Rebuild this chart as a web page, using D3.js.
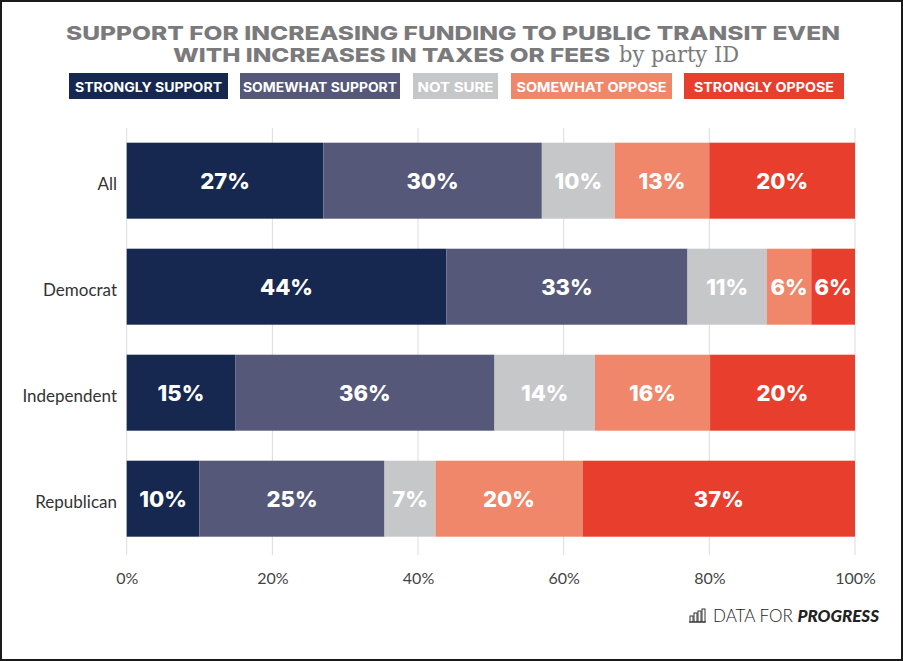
<!DOCTYPE html>
<html><head><meta charset="utf-8">
<script src="https://cdn.jsdelivr.net/npm/d3@7"></script>
<style>
html,body{margin:0;padding:0;background:#fff;}
svg{display:block;}
</style></head>
<body>
<svg id="chart" width="903" height="661"></svg>
<script>
const categories = ["All", "Democrat", "Independent", "Republican"];
const seriesKeys = ["stronglySupport", "somewhatSupport", "notSure", "somewhatOppose", "stronglyOppose"];
const legendLabels = ["STRONGLY SUPPORT", "SOMEWHAT SUPPORT", "NOT SURE", "SOMEWHAT OPPOSE", "STRONGLY OPPOSE"];
const stronglySupport = [27, 43.9, 14.9, 10.0];
const somewhatSupport = [30, 33.1, 35.6, 25.4];
const notSure = [10, 10.9, 13.8, 7.0];
const somewhatOppose = [13, 6.1, 15.8, 20.2];
const stronglyOppose = [20, 6.0, 19.9, 37.4];
const tickValues = [0, 20, 40, 60, 80, 100];
const titleLine1 = "SUPPORT FOR INCREASING FUNDING TO PUBLIC TRANSIT EVEN";
const titleLine2 = "WITH INCREASES IN TAXES OR FEES";
const titleSuffix = "by party ID";

const colors = ["#16284f", "#555879", "#c6c7c9", "#f0876a", "#e83e2d"];
const seriesValues = [stronglySupport, somewhatSupport, notSure, somewhatOppose, stronglyOppose];

const table = categories.map((c, i) => {
  const row = {category: c};
  seriesKeys.forEach((k, j) => row[k] = seriesValues[j][i]);
  return row;
});

const svg = d3.select("#chart");

// frame
svg.append("rect").attr("x", 1).attr("y", 1).attr("width", 901).attr("height", 659)
  .attr("fill", "#fff").attr("stroke", "#1a1a1a").attr("stroke-width", 2);

const x = d3.scaleLinear().domain([0, 100]).range([126.7, 855]);
const y = d3.scaleBand().domain(categories).range([127.7, 551.7]).paddingInner(0.283).paddingOuter(0.1415);

// gridlines
svg.append("g").selectAll("line").data(tickValues).join("line")
  .attr("x1", d => x(d)).attr("x2", d => x(d))
  .attr("y1", 128).attr("y2", 555)
  .attr("stroke", "#dcdcdc").attr("stroke-width", 1);

// axis labels
const xAxis = d3.axisBottom(x).tickValues(tickValues).tickFormat(d => d + "%").tickSize(0).tickPadding(0);
const gx = svg.append("g").attr("transform", "translate(0,573)").call(xAxis);
gx.select(".domain").remove();
gx.selectAll("text").attr("font-family", "Lato, 'Noto Sans', sans-serif").attr("font-size", 16)
  .attr("fill", "#444").attr("dy", "0.71em");

// category labels
const yAxis = d3.axisLeft(y).tickSize(0).tickPadding(0);
const gy = svg.append("g").attr("transform", "translate(117,0)").call(yAxis);
gy.select(".domain").remove();
gy.selectAll("text").attr("font-family", "Lato, 'Noto Sans', sans-serif").attr("font-size", 17)
  .attr("fill", "#333").attr("dy", "0.55em");

// stacked bars
const stack = d3.stack().keys(seriesKeys);
const stacked = stack(table);

const layers = svg.append("g").selectAll("g").data(stacked).join("g")
  .attr("fill", (d, i) => colors[i]);

layers.selectAll("rect").data(d => d.map(p => ({p, cat: p.data.category}))).join("rect")
  .attr("x", d => x(d.p[0]))
  .attr("y", d => y(d.cat))
  .attr("width", d => x(d.p[1]) - x(d.p[0]))
  .attr("height", y.bandwidth());

layers.selectAll("text").data(d => d.map(p => ({p, cat: p.data.category}))).join("text")
  .attr("x", d => (x(d.p[0]) + x(d.p[1])) / 2)
  .attr("y", d => y(d.cat) + y.bandwidth() / 2)
  .attr("dy", "0.38em")
  .attr("text-anchor", "middle")
  .attr("fill", "#fff")
  .attr("font-family", "Inter, Lato, sans-serif")
  .attr("font-weight", 800)
  .attr("font-size", 22)
  .text(d => Math.round(d.p[1] - d.p[0]) + "%");

// title
const titleFont = "Inter, 'DejaVu Sans', sans-serif";
svg.append("text").attr("x", 66).attr("y", 40)
  .attr("font-family", titleFont).attr("font-weight", 800).attr("font-size", 19)
  .attr("fill", "#7a7a7c").attr("textLength", 774).attr("lengthAdjust", "spacingAndGlyphs")
  .text(titleLine1);
svg.append("text").attr("x", 173).attr("y", 62)
  .attr("font-family", titleFont).attr("font-weight", 800).attr("font-size", 19)
  .attr("fill", "#7a7a7c").attr("textLength", 437).attr("lengthAdjust", "spacingAndGlyphs")
  .text(titleLine2);
svg.append("text").attr("x", 619).attr("y", 62)
  .attr("font-family", "'DejaVu Serif', 'Liberation Serif', serif").attr("font-size", 22)
  .attr("fill", "#7a7a7c").attr("textLength", 120).attr("lengthAdjust", "spacingAndGlyphs")
  .text(titleSuffix);

// legend
const legendBoxes = [[69, 228], [240, 400], [413, 498], [511, 672], [684, 844]];
const legendTextW = [147, 154, 76, 150, 140];
const lg = svg.append("g").selectAll("g").data(legendLabels).join("g");
lg.append("rect")
  .attr("x", (d, i) => legendBoxes[i][0]).attr("y", 73)
  .attr("width", (d, i) => legendBoxes[i][1] - legendBoxes[i][0]).attr("height", 26)
  .attr("fill", (d, i) => colors[i]);
lg.append("text")
  .attr("x", (d, i) => (legendBoxes[i][0] + legendBoxes[i][1]) / 2).attr("y", 92)
  .attr("text-anchor", "middle").attr("fill", "#fff")
  .attr("font-family", titleFont).attr("font-weight", 700).attr("font-size", 13)
  .attr("textLength", (d, i) => legendTextW[i]).attr("lengthAdjust", "spacingAndGlyphs")
  .text(d => d);

// logo
const logo = svg.append("g");
const iconBars = [[690, 6], [694, 9], [698, 11], [702, 13]];
logo.selectAll("rect").data(iconBars).join("rect")
  .attr("x", d => d[0]).attr("y", d => 622 - d[1]).attr("width", 3).attr("height", d => d[1])
  .attr("fill", "none").attr("stroke", "#333").attr("stroke-width", 1);
logo.append("line").attr("x1", 689).attr("x2", 706).attr("y1", 622).attr("y2", 622)
  .attr("stroke", "#333").attr("stroke-width", 1);
const lt = logo.append("text").attr("x", 713).attr("y", 622)
  .attr("font-family", "Lato, 'Noto Sans', sans-serif").attr("font-size", 17).attr("fill", "#222")
  .attr("textLength", 166).attr("lengthAdjust", "spacingAndGlyphs");
lt.append("tspan").attr("font-weight", 300).text("DATA FOR ");
lt.append("tspan").attr("font-weight", 900).attr("font-style", "italic").text("PROGRESS");
</script>
</body></html>
